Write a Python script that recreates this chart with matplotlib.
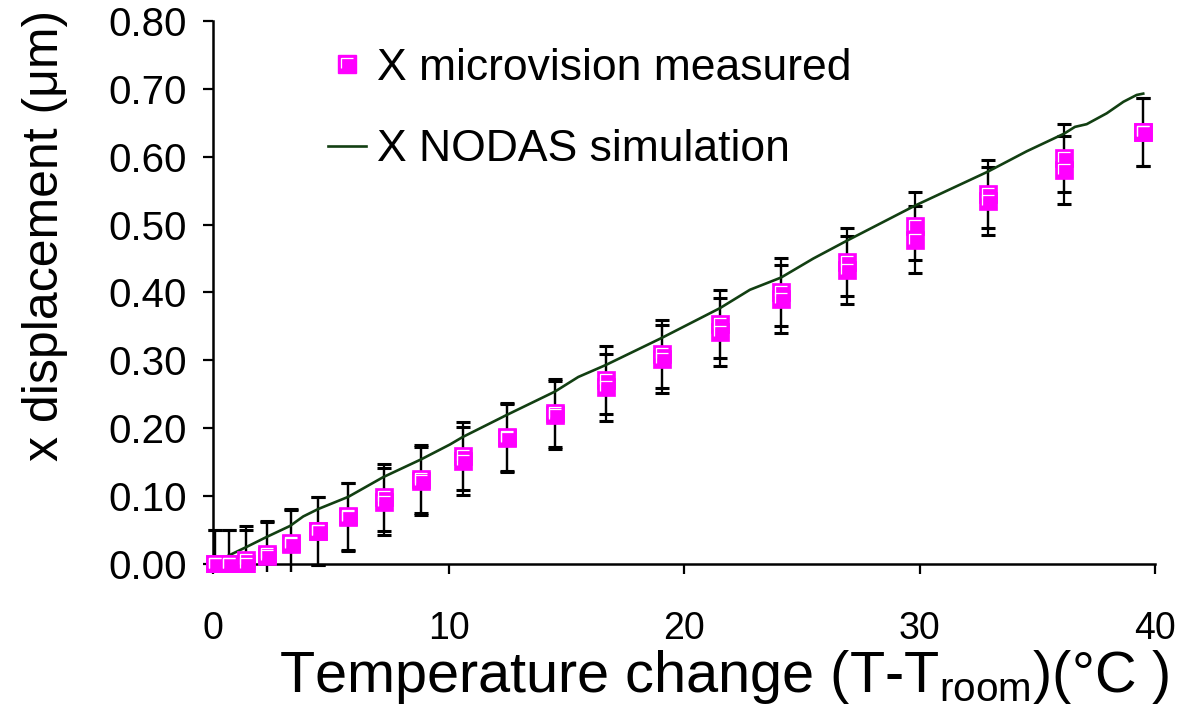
import matplotlib
matplotlib.use("Agg")
import matplotlib.pyplot as plt
import numpy as np
from matplotlib.lines import Line2D
from matplotlib.path import Path
from matplotlib.ticker import FormatStrFormatter, MultipleLocator

plt.rcParams["font.family"] = ["Liberation Sans", "DejaVu Sans"]
plt.rcParams["mathtext.fontset"] = "custom"
plt.rcParams["mathtext.rm"] = "Liberation Sans"
plt.rcParams["mathtext.it"] = "Liberation Sans:italic"

# temperature steps (T - T_room), deg C
temp = [0.08, 0.68, 1.40, 2.29, 3.31, 4.46, 5.73, 7.26, 8.83, 10.6, 12.47,
        14.52, 16.67, 19.05, 21.53, 24.12, 26.9, 29.81, 32.9, 36.14, 39.5]
# microvision readings, two passes per step (um)
meas_a = [0.000, 0.000, 0.006, 0.014, 0.031, 0.049, 0.070, 0.098, 0.125, 0.159,
          0.187, 0.222, 0.271, 0.309, 0.354, 0.401, 0.445, 0.498, 0.545, 0.598, 0.636]
meas_b = [0.000, 0.000, 0.000, 0.012, 0.030, 0.049, 0.069, 0.092, 0.122, 0.152,
          0.185, 0.220, 0.260, 0.302, 0.342, 0.391, 0.433, 0.478, 0.535, 0.581, 0.636]
meas_err = 0.05

# NODAS simulation curve
sim_t = [0.0, 0.64, 1.36, 2.29, 3.27, 3.83, 4.47, 5.75, 7.23, 8.83, 10.06, 10.6,
         12.47, 14.52, 15.51, 16.67, 19.05, 21.53, 22.8, 24.12, 25.49, 26.9,
         29.81, 32.9, 34.55, 36.14, 36.6, 37.1, 37.95, 38.66, 39.22, 39.5]
sim_x = [0.0, 0.012, 0.024, 0.040, 0.056, 0.070, 0.081, 0.099, 0.128, 0.154,
         0.176, 0.187, 0.2195, 0.254, 0.2755, 0.293, 0.333, 0.377, 0.404, 0.422,
         0.450, 0.476, 0.528, 0.578, 0.608, 0.634, 0.644, 0.648, 0.664, 0.681,
         0.691, 0.693]

MAGENTA = "#ff00ff"
SIM_GREEN = "#123f12"
MS = 13

# white corner highlight drawn on each square marker
hl_path = Path(
    [(0.5, 0.5), (-0.36, -0.22), (-0.36, 0.36), (0.32, 0.36)],
    [Path.MOVETO, Path.MOVETO, Path.LINETO, Path.LINETO],
)

fig = plt.figure(figsize=(11.86, 7.19), dpi=100)
ax = fig.add_axes([203.6 / 1186, 1 - 572.1 / 719, 951.4 / 1186, 551.1 / 719])

for y in (meas_a, meas_b):
    ax.errorbar(temp, y, yerr=meas_err, fmt="none", ecolor="black",
                elinewidth=1.6, capsize=5, capthick=2.2, zorder=2)

ax.plot(sim_t, sim_x, color=SIM_GREEN, lw=1.9, zorder=3)

for y in (meas_a, meas_b):
    ax.plot(temp, y, ls="none", marker="s", ms=MS, mfc=MAGENTA, mec=MAGENTA,
            mew=0.5, zorder=4)
    ax.plot(temp, y, ls="none", marker=hl_path, ms=MS, mfc="none", mec="white",
            mew=0.9, zorder=5)

ax.set_xlim(-0.4, 40)
ax.set_ylim(-0.012, 0.8)

for side in ("top", "right"):
    ax.spines[side].set_visible(False)
ax.spines["left"].set_position(("data", 0))
ax.spines["bottom"].set_position(("data", 0))
ax.spines["left"].set_bounds(0, 0.8)
ax.spines["bottom"].set_bounds(0, 40)
for side in ("left", "bottom"):
    ax.spines[side].set_linewidth(1.8)

ax.xaxis.set_major_locator(MultipleLocator(10))
ax.yaxis.set_major_locator(MultipleLocator(0.1))
ax.yaxis.set_major_formatter(FormatStrFormatter("%.2f"))
ax.tick_params(axis="both", direction="out", length=7, width=1.6)
ax.tick_params(axis="x", pad=27, labelsize=27)
ax.tick_params(axis="y", pad=12, labelsize=29)

ax.set_ylabel("x displacement (μm)", fontsize=36, va="center")
ax.yaxis.set_label_coords(-0.1667, 0.610)
ax.set_xlabel(r"Temperature change (T-$\mathrm{T}_{\mathrm{room}}$)(°C )",
              fontsize=41.5, va="baseline")
ax.xaxis.set_label_coords(0.547, -0.2176)

meas_handle = (
    Line2D([], [], ls="none", marker="s", ms=MS, mfc=MAGENTA, mec=MAGENTA),
    Line2D([], [], ls="none", marker=hl_path, ms=MS, mfc="none", mec="white", mew=0.9),
)
sim_handle = Line2D([], [], color=SIM_GREEN, lw=1.9)
fig.legend([meas_handle, sim_handle],
           ["X microvision measured", "X NODAS simulation"],
           loc="upper left", bbox_to_anchor=(328 / 1186, 1 - 48 / 719),
           frameon=False, fontsize=32, borderpad=0, borderaxespad=0,
           handlelength=0.85, handletextpad=0.25, labelspacing=0.91)

fig.savefig("out.png", dpi=100)
